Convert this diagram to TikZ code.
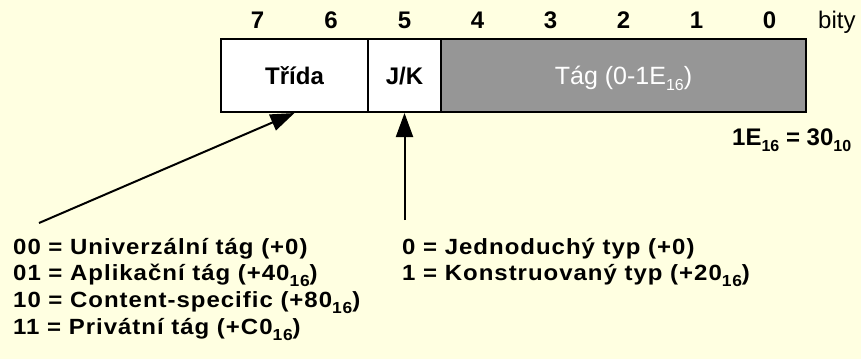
\documentclass[tikz,border=0pt]{standalone}
\usepackage{fontspec}
\setmainfont{Liberation Sans}
\newfontfamily\legendfont[LetterSpace=4.5,FakeStretch=1.09]{Liberation Sans}
\usetikzlibrary{arrows.meta}
\definecolor{paper}{RGB}{255,255,225}
\definecolor{tagfill}{RGB}{150,150,150}
% lowered, smaller digits used as a numeric base index
\newcommand\lowsub[1]{\raisebox{-6pt}{\fontsize{16}{16}\selectfont #1}}

\begin{document}
\begin{tikzpicture}[x=1pt,y=-1pt,
  cell/.style={draw=black, line width=2pt, minimum height=73pt, inner sep=0pt,
    text height=17.2pt, text depth=0pt, font=\fontsize{24}{24}\selectfont\bfseries},
  bitnum/.style={anchor=base, inner sep=0pt, font=\fontsize{24}{24}\selectfont\bfseries},
  legend/.style={anchor=base west, inner sep=0pt, font=\legendfont\fontsize{22}{22}\selectfont\bfseries},
  pointer/.style={line width=2pt, -{Triangle[length=24pt,width=17pt]}},
]
\fill[paper] (0,0) rectangle (861,359);
\useasboundingbox (0,0) rectangle (861,359);

% the identifier octet
\node[cell, fill=white, minimum width=147pt] (trida) at (294.5,75.5) {Třída};
\node[cell, fill=white, minimum width=73pt] (jk) at (404.5,75.5) {J/K};
\node[cell, fill=tagfill, minimum width=365pt, text=white,
      font=\fontsize{25}{25}\selectfont] (tag) at (623.5,75.5) {Tág (0-1E\lowsub{16})};

% bit numbers
\node[bitnum] (b7) at (257.5,28) {7};
\node[bitnum] (b6) at (331,28) {6};
\node[bitnum] (b5) at (404.5,28) {5};
\node[bitnum] (b4) at (477.5,28) {4};
\node[bitnum] (b3) at (550.5,28) {3};
\node[bitnum] (b2) at (623.5,28) {2};
\node[bitnum] (b1) at (696.5,28) {1};
\node[bitnum] (b0) at (769.5,28) {0};
\node[anchor=base west, inner sep=0pt, font=\fontsize{24}{24}\selectfont] (bity) at (818,28) {bity};

\node[anchor=base west, inner sep=0pt, font=\fontsize{24}{24}\selectfont\bfseries] (conv)
  at (732,145) {1E\lowsub{16} = 30\lowsub{10}};

% pointers to the fields
\coordinate (classfoot) at (39,223);
\coordinate (pcfoot) at (404.5,220);
\draw[pointer] (classfoot) -- (trida.south);
\draw[pointer] (pcfoot) -- (jk.south);

% legends
\node[legend] (cls00) at (13,254) {00 = Univerzální tág (+0)};
\node[legend] (cls01) at (13,280.7) {01 = Aplikační tág (+40\lowsub{16})};
\node[legend] (cls10) at (13,307.3) {10 = Content-specific (+80\lowsub{16})};
\node[legend] (cls11) at (13,334) {11 = Privátní tág (+C0\lowsub{16})};
\node[legend] (pc0) at (402,254) {0 = Jednoduchý typ (+0)};
\node[legend] (pc1) at (402,280.7) {1 = Konstruovaný typ (+20\lowsub{16})};
\end{tikzpicture}
\end{document}
